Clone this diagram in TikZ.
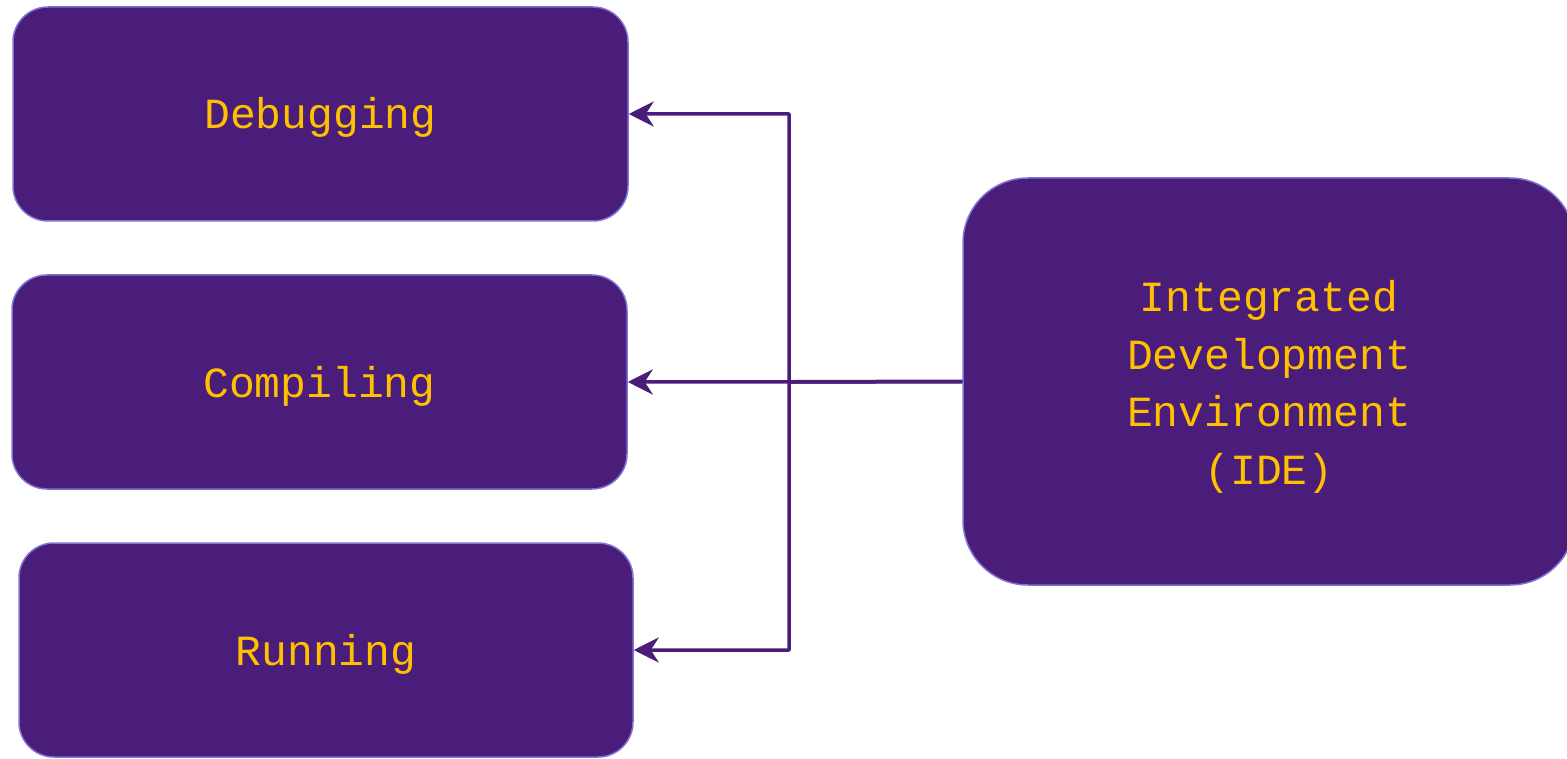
\documentclass[tikz,border=0pt]{standalone}
\usepackage{fontspec}
\setmonofont{Liberation Mono}
\usetikzlibrary{arrows.meta}
\definecolor{boxfill}{HTML}{4A1D7A}
\definecolor{boxedge}{HTML}{7F72D2}
\definecolor{txt}{HTML}{FFC000}
\definecolor{conn}{HTML}{4A1D7A}
\tikzset{
  blockbox/.style={draw=boxedge, line width=1.5pt, fill=boxfill, rounded corners=35pt,
    minimum width=615pt, minimum height=214pt, text=txt, inner sep=0pt,
    text height=30pt, text depth=0pt,
    font=\fontsize{43}{57.5}\selectfont\ttfamily, align=center},
  bigbox/.style={blockbox, rounded corners=65pt, minimum width=612pt, minimum height=407pt,
    text height=205pt},
  conn/.style={draw=conn, line width=3.5pt, line join=round,
    -{Stealth[length=25pt,width=25pt,inset=8pt]}}
}
\begin{document}
\begin{tikzpicture}[x=1pt,y=-1pt]
\useasboundingbox (0,0) rectangle (1567,759);
\clip (0,0) rectangle (1567,759);
\node[blockbox] (dbg) at (320.5,114) {Debugging};
\node[blockbox] (cmp) at (319.5,382) {Compiling};
\node[blockbox, minimum width=614pt] (run) at (326,650) {Running};
\node[bigbox] (ide) at (1269,381.5) {Integrated\\Development\\Environment\\(IDE)};
\coordinate (trunk) at (789,382);
\draw[conn] (ide.west) -- (cmp.east);
\draw[conn] (ide.west) -- (trunk) |- (dbg.east);
\draw[conn] (ide.west) -- (trunk) |- (run.east);
\end{tikzpicture}
\end{document}
